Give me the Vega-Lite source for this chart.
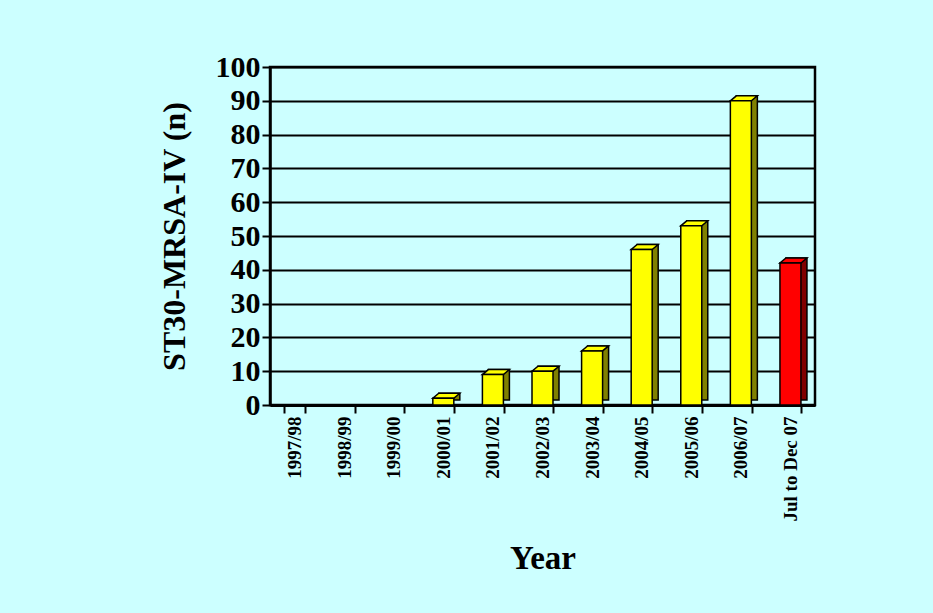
{
  "$schema": "https://vega.github.io/schema/vega-lite/v6.json",
  "width": 545,
  "height": 338,
  "autosize": {"type": "none"},
  "padding": {"left": 270, "top": 67, "right": 118, "bottom": 208},
  "background": "#CCFFFF",
  "config": {
    "font": "Liberation Serif",
    "view": {"stroke": "#000000", "strokeWidth": 2.5}
  },
  "data": {
    "values": [
      {"year": "1997/98", "n": 0},
      {"year": "1998/99", "n": 0},
      {"year": "1999/00", "n": 0},
      {"year": "2000/01", "n": 2},
      {"year": "2001/02", "n": 9},
      {"year": "2002/03", "n": 10},
      {"year": "2003/04", "n": 16},
      {"year": "2004/05", "n": 46},
      {"year": "2005/06", "n": 53},
      {"year": "2006/07", "n": 90},
      {"year": "Jul to Dec 07", "n": 42}
    ]
  },
  "encoding": {
    "x": {
      "field": "year",
      "type": "nominal",
      "sort": null,
      "scale": {
        "domain": ["1997/98", "1998/99", "1999/00", "2000/01", "2001/02", "2002/03", "2003/04", "2004/05", "2005/06", "2006/07", "Jul to Dec 07"],
        "paddingInner": 0.57,
        "paddingOuter": 0.28
      },
      "axis": {
        "title": "Year",
        "titleFontSize": 33,
        "titleFontWeight": "bold",
        "titleColor": "#000000",
        "titlePadding": 21,
        "labelAngle": -90,
        "labelFontSize": 19,
        "labelFontWeight": "bold",
        "labelColor": "#000000",
        "labelPadding": 3,
        "tickBand": "extent",
        "tickSize": 8,
        "tickWidth": 2,
        "tickColor": "#000000",
        "domainColor": "#000000",
        "domainWidth": 3,
        "grid": false
      }
    },
    "y": {
      "field": "n",
      "type": "quantitative",
      "scale": {"domain": [0, 100], "nice": false},
      "axis": {
        "title": "ST30-MRSA-IV (n)",
        "titleFontSize": 32,
        "titleFontWeight": "bold",
        "titleColor": "#000000",
        "titlePadding": 24,
        "values": [0, 10, 20, 30, 40, 50, 60, 70, 80, 90, 100],
        "labelFontSize": 30,
        "labelFontWeight": "bold",
        "labelColor": "#000000",
        "labelPadding": 2,
        "tickSize": 8,
        "tickWidth": 2,
        "tickColor": "#000000",
        "domainColor": "#000000",
        "domainWidth": 2.5,
        "grid": true,
        "gridColor": "#000000",
        "gridWidth": 2,
        "gridOpacity": 1
      }
    }
  },
  "layer": [
    {
      "transform": [{"filter": "datum.n > 0"}],
      "mark": {"type": "bar", "width": 21, "xOffset": 6, "yOffset": -5, "stroke": "#000000", "strokeWidth": 1.5},
      "encoding": {
        "fill": {
          "condition": {"test": "datum.year === 'Jul to Dec 07'", "value": "#800000"},
          "value": "#808000"
        }
      }
    },
    {
      "transform": [{"filter": "datum.n > 0"}],
      "mark": {
        "type": "point",
        "filled": true,
        "shape": "M -1 0 L 1 0 L 1.571 -0.476 L -0.429 -0.476 Z",
        "size": 441,
        "stroke": "#000000",
        "strokeWidth": 1.5,
        "opacity": 1,
        "strokeOpacity": 1,
        "fillOpacity": 1
      },
      "encoding": {
        "fill": {
          "condition": {"test": "datum.year === 'Jul to Dec 07'", "value": "#FF0000"},
          "value": "#FFFF00"
        }
      }
    },
    {
      "transform": [{"filter": "datum.n > 0"}],
      "mark": {"type": "bar", "width": 21, "stroke": "#000000", "strokeWidth": 1.5},
      "encoding": {
        "fill": {
          "condition": {"test": "datum.year === 'Jul to Dec 07'", "value": "#FF0000"},
          "value": "#FFFF00"
        }
      }
    }
  ]
}
